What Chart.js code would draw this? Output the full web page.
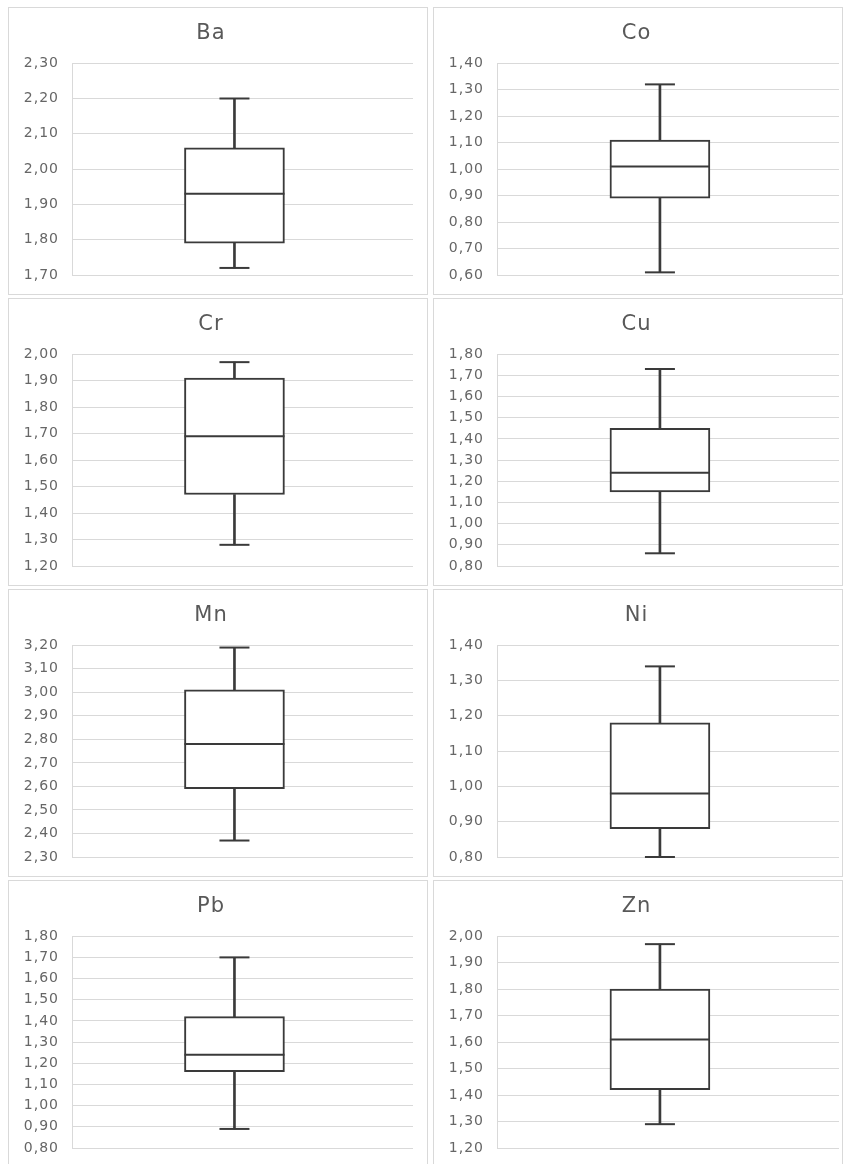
<!DOCTYPE html>
<html>
<head>
<meta charset="utf-8">
<title>Box plots</title>
<script src="https://cdn.jsdelivr.net/npm/chart.js@4/dist/chart.umd.min.js"></script>
<style>
  html, body { margin: 0; padding: 0; background: #fff; }
  body { width: 843px; height: 1164px; position: relative; overflow: hidden; }
  .panel { position: absolute; border: 1px solid #d9d9d9; box-sizing: border-box; background: #fff; }
  .panel canvas { display: block; }
</style>
</head>
<body>
<script>
// Element names, one panel each
const elements = ['Ba', 'Co', 'Cr', 'Cu', 'Mn', 'Ni', 'Pb', 'Zn'];

// Five-number summaries
const whiskerMin = [1.72, 0.61, 1.28, 0.86, 2.37, 0.80, 0.89, 1.29];
const quartile1  = [1.79, 0.89, 1.47, 1.15, 2.59, 0.88, 1.16, 1.42];
const medians    = [1.93, 1.01, 1.69, 1.24, 2.78, 0.98, 1.24, 1.61];
const quartile3  = [2.06, 1.11, 1.91, 1.45, 3.01, 1.18, 1.42, 1.80];
const whiskerMax = [2.20, 1.32, 1.97, 1.73, 3.19, 1.34, 1.70, 1.97];

// Value-axis ranges and tick step
const axisMin  = [1.70, 0.60, 1.20, 0.80, 2.30, 0.80, 0.80, 1.20];
const axisMax  = [2.30, 1.40, 2.00, 1.80, 3.20, 1.40, 1.80, 2.00];
const axisStep = [0.10, 0.10, 0.10, 0.10, 0.10, 0.10, 0.10, 0.10];

const INK = '#3a3a3a';
const TEXT = '#666666';
const GRID = '#d9d9d9';

// slightly wider text spacing for all labels
const spacedText = {
  id: 'spacedText',
  beforeLayout(chart) { chart.ctx.letterSpacing = '1px'; },
  beforeDraw(chart) { chart.ctx.letterSpacing = '1px'; }
};

const colLeft = [8, 433];
const colWidth = [420, 410];
const rowTop = [7, 298, 589, 880];
const panelHeight = 288;

elements.forEach((name, i) => {
  const col = i % 2, row = Math.floor(i / 2);
  const panel = document.createElement('div');
  panel.className = 'panel';
  panel.style.left = colLeft[col] + 'px';
  panel.style.top = rowTop[row] + 'px';
  panel.style.width = colWidth[col] + 'px';
  panel.style.height = panelHeight + 'px';
  const canvas = document.createElement('canvas');
  canvas.width = colWidth[col] - 2;
  canvas.height = panelHeight - 2;
  panel.appendChild(canvas);
  document.body.appendChild(panel);

  new Chart(canvas, {
    type: 'bar',
    data: {
      datasets: [
        {
          type: 'line', label: 'median', order: 0,
          data: [{ x: 0, y: medians[i] }],
          showLine: false, clip: false,
          pointStyle: 'line', pointRadius: 50,
          pointBorderColor: INK, pointBorderWidth: 2
        },
        {
          type: 'line', label: 'caps', order: 1,
          data: [{ x: 0, y: whiskerMin[i] }, { x: 0, y: whiskerMax[i] }],
          showLine: false, clip: false,
          pointStyle: 'line', pointRadius: 15,
          pointBorderColor: INK, pointBorderWidth: 2
        },
        {
          label: 'box', order: 2, grouped: false,
          data: [{ x: 0, y: [quartile1[i], quartile3[i]] }],
          backgroundColor: '#ffffff', borderColor: INK, borderWidth: 2,
          borderSkipped: false, barThickness: 100
        },
        {
          label: 'whiskers', order: 3, grouped: false,
          data: [{ x: 0, y: [whiskerMin[i], quartile1[i]] }, { x: 0, y: [quartile3[i], whiskerMax[i]] }],
          backgroundColor: INK, borderWidth: 0, barThickness: 2
        }
      ]
    },
    options: {
      responsive: false,
      animation: false,
      events: [],
      layout: { autoPadding: false, padding: { top: 0, left: 0, right: col === 0 ? 14 : 3, bottom: 19 } },
      plugins: {
        legend: { display: false },
        tooltip: { enabled: false },
        title: {
          display: true, text: name, color: '#595959',
          font: { family: 'DejaVu Sans', size: 21, weight: 'normal' },
          padding: { top: 13, bottom: 17 }
        }
      },
      scales: {
        x: { type: 'linear', display: false, min: -0.5, max: 0.56 },
        y: {
          min: axisMin[i], max: axisMax[i],
          afterFit(scale) {
            scale.width = 63;
            scale.paddingTop = 0;
            scale.paddingBottom = 0;
          },
          grid: { color: GRID, lineWidth: 1, drawTicks: false },
          border: { display: true, color: GRID },
          ticks: {
            stepSize: axisStep[i], padding: 13, color: TEXT, autoSkip: false,
            font: { family: 'DejaVu Sans', size: 14 },
            callback: v => v.toFixed(2).replace('.', ',')
          }
        }
      }
    },
    plugins: [spacedText]
  });
});
</script>
</body>
</html>
